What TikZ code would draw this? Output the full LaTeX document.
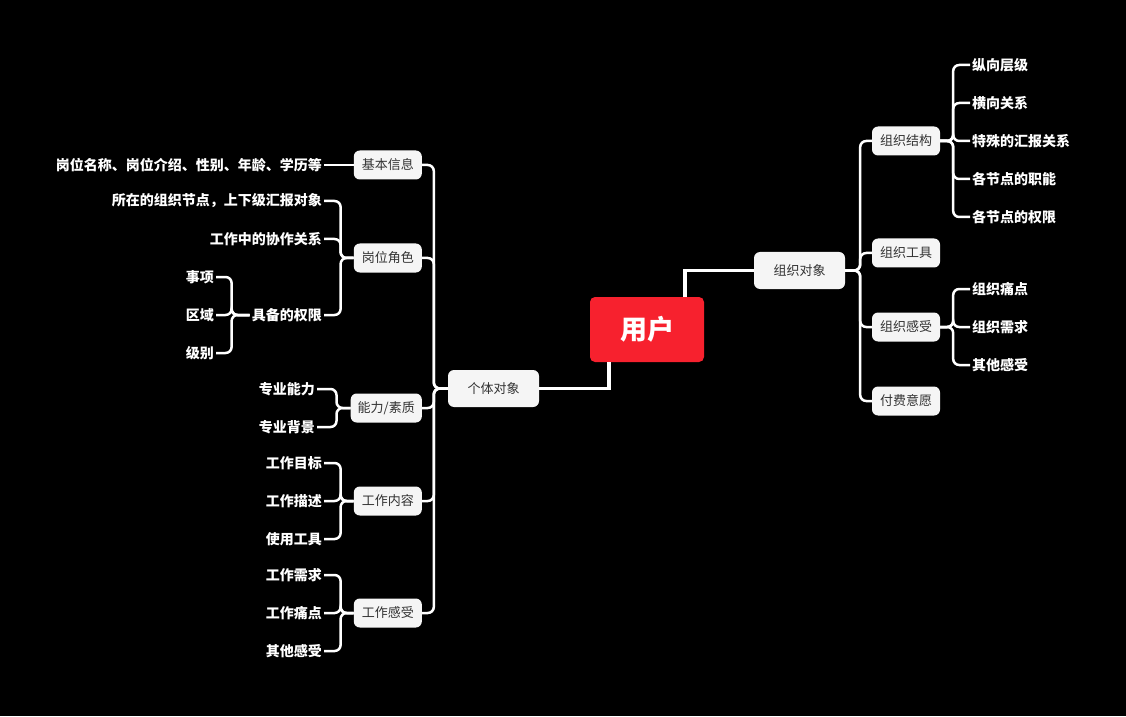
\documentclass[tikz,border=0pt]{standalone}
\usepackage{fontspec}
\usepackage{xcolor}
\usepackage{tikz}
\usetikzlibrary{positioning}
\newfontfamily\cjk{Noto Sans CJK SC}
\definecolor{userred}{HTML}{F7212E}
\definecolor{boxgray}{HTML}{F5F5F5}
\definecolor{inkgray}{HTML}{333333}
\tikzset{
  root/.style={rectangle, rounded corners=5pt, fill=userred, text=white, minimum width=114pt, minimum height=65pt, font=\cjk\bfseries\fontsize{27pt}{30pt}\selectfont},
  topic/.style={rectangle, rounded corners=6pt, fill=boxgray, text=inkgray, minimum width=91pt, minimum height=37pt, font=\cjk\fontsize{13pt}{15pt}\selectfont},
  sub/.style={rectangle, rounded corners=6pt, fill=boxgray, text=inkgray, minimum width=68pt, minimum height=29pt, inner xsep=7pt, font=\cjk\fontsize{13pt}{15pt}\selectfont},
  leaf/.style={inner sep=2pt, text=white, font=\cjk\bfseries\fontsize{14pt}{16pt}\selectfont},
  link/.style={white, line width=3.5pt},
  twig/.style={white, line width=2.5pt, rounded corners=6pt},
}
\begin{document}
\begin{tikzpicture}[x=1pt, y=1pt]
\useasboundingbox (0,0) rectangle (1126,716);
\fill[black] (0,0) rectangle (1126,716);

% centre and the two main branches
\node[root] (user) at (647,386.5) {用户};
\node[topic] (org) at (799.5,445.5) {组织对象};
\node[topic] (indiv) at (493.5,327.5) {个体对象};
\draw[link] ([xshift=38pt]user.north) |- (org.west);
\draw[link] ([xshift=-38pt]user.south) |- (indiv.east);

% right side: organisation
\node[sub] (struct) at (906,575) {组织结构};
\node[sub] (tool) at (906,463) {组织工具};
\node[sub] (feel) at (906,389) {组织感受};
\node[sub] (pay) at (906,315) {付费意愿};
\foreach \c in {struct,tool,feel,pay}
  \draw[twig] (org.east) -- ++(15,0) |- (\c.west);

\node[leaf, anchor=west] (vert) at (970,651) {纵向层级};
\node[leaf, anchor=west] (horiz) at (970,613) {横向关系};
\node[leaf, anchor=west] (report) at (970,575) {特殊的汇报关系};
\node[leaf, anchor=west] (duty) at (970,537) {各节点的职能};
\node[leaf, anchor=west] (right) at (970,499) {各节点的权限};
\foreach \c in {vert,horiz,report,duty,right}
  \draw[twig] (struct.east) -- ++(13,0) |- (\c.west);

\node[leaf, anchor=west] (opain) at (970,427) {组织痛点};
\node[leaf, anchor=west] (oneed) at (970,389) {组织需求};
\node[leaf, anchor=west] (ofeel) at (970,351) {其他感受};
\foreach \c in {opain,oneed,ofeel}
  \draw[twig] (feel.east) -- ++(13,0) |- (\c.west);

% left side: individual
\node[sub, anchor=east] (basic) at (422,551) {基本信息};
\node[sub, anchor=east] (role) at (422,458) {岗位角色};
\node[sub, anchor=east] (skill) at (422,308) {能力/素质};
\node[sub, anchor=east] (work) at (422,215) {工作内容};
\node[sub, anchor=east] (wfeel) at (422,103) {工作感受};
\foreach \c in {basic,role,skill,work,wfeel}
  \draw[twig] (indiv.west) -- ++(-14,0) |- (\c.east);

\node[leaf, anchor=east] (post) at (324,551) {岗位名称、岗位介绍、性别、年龄、学历等};
\draw[twig] (basic.west) -- (post.east);

\node[leaf, anchor=east] (node) at (324,515) {所在的组织节点，上下级汇报对象};
\node[leaf, anchor=east] (coop) at (324,477) {工作中的协作关系};
\node[leaf, anchor=east] (perm) at (324,401) {具备的权限};
\foreach \c in {node,coop,perm}
  \draw[twig] (role.west) -- ++(-13,0) |- (\c.east);

\node[leaf, anchor=east] (matter) at (216,439) {事项};
\node[leaf, anchor=east] (area) at (216,401) {区域};
\node[leaf, anchor=east] (level) at (216,363) {级别};
\foreach \c in {matter,area,level}
  \draw[twig] (perm.west) -- ++(-18,0) |- (\c.east);

\node[leaf, anchor=east] (ability) at (317,327) {专业能力};
\node[leaf, anchor=east] (backgr) at (317,289) {专业背景};
\foreach \c in {ability,backgr}
  \draw[twig] (skill.west) -- ++(-14,0) |- (\c.east);

\node[leaf, anchor=east] (goal) at (324,253) {工作目标};
\node[leaf, anchor=east] (descr) at (324,215) {工作描述};
\node[leaf, anchor=east] (usetool) at (324,177) {使用工具};
\foreach \c in {goal,descr,usetool}
  \draw[twig] (work.west) -- ++(-13,0) |- (\c.east);

\node[leaf, anchor=east] (wneed) at (324,141) {工作需求};
\node[leaf, anchor=east] (wpain) at (324,103) {工作痛点};
\node[leaf, anchor=east] (wother) at (324,65) {其他感受};
\foreach \c in {wneed,wpain,wother}
  \draw[twig] (wfeel.west) -- ++(-13,0) |- (\c.east);
\end{tikzpicture}
\end{document}
